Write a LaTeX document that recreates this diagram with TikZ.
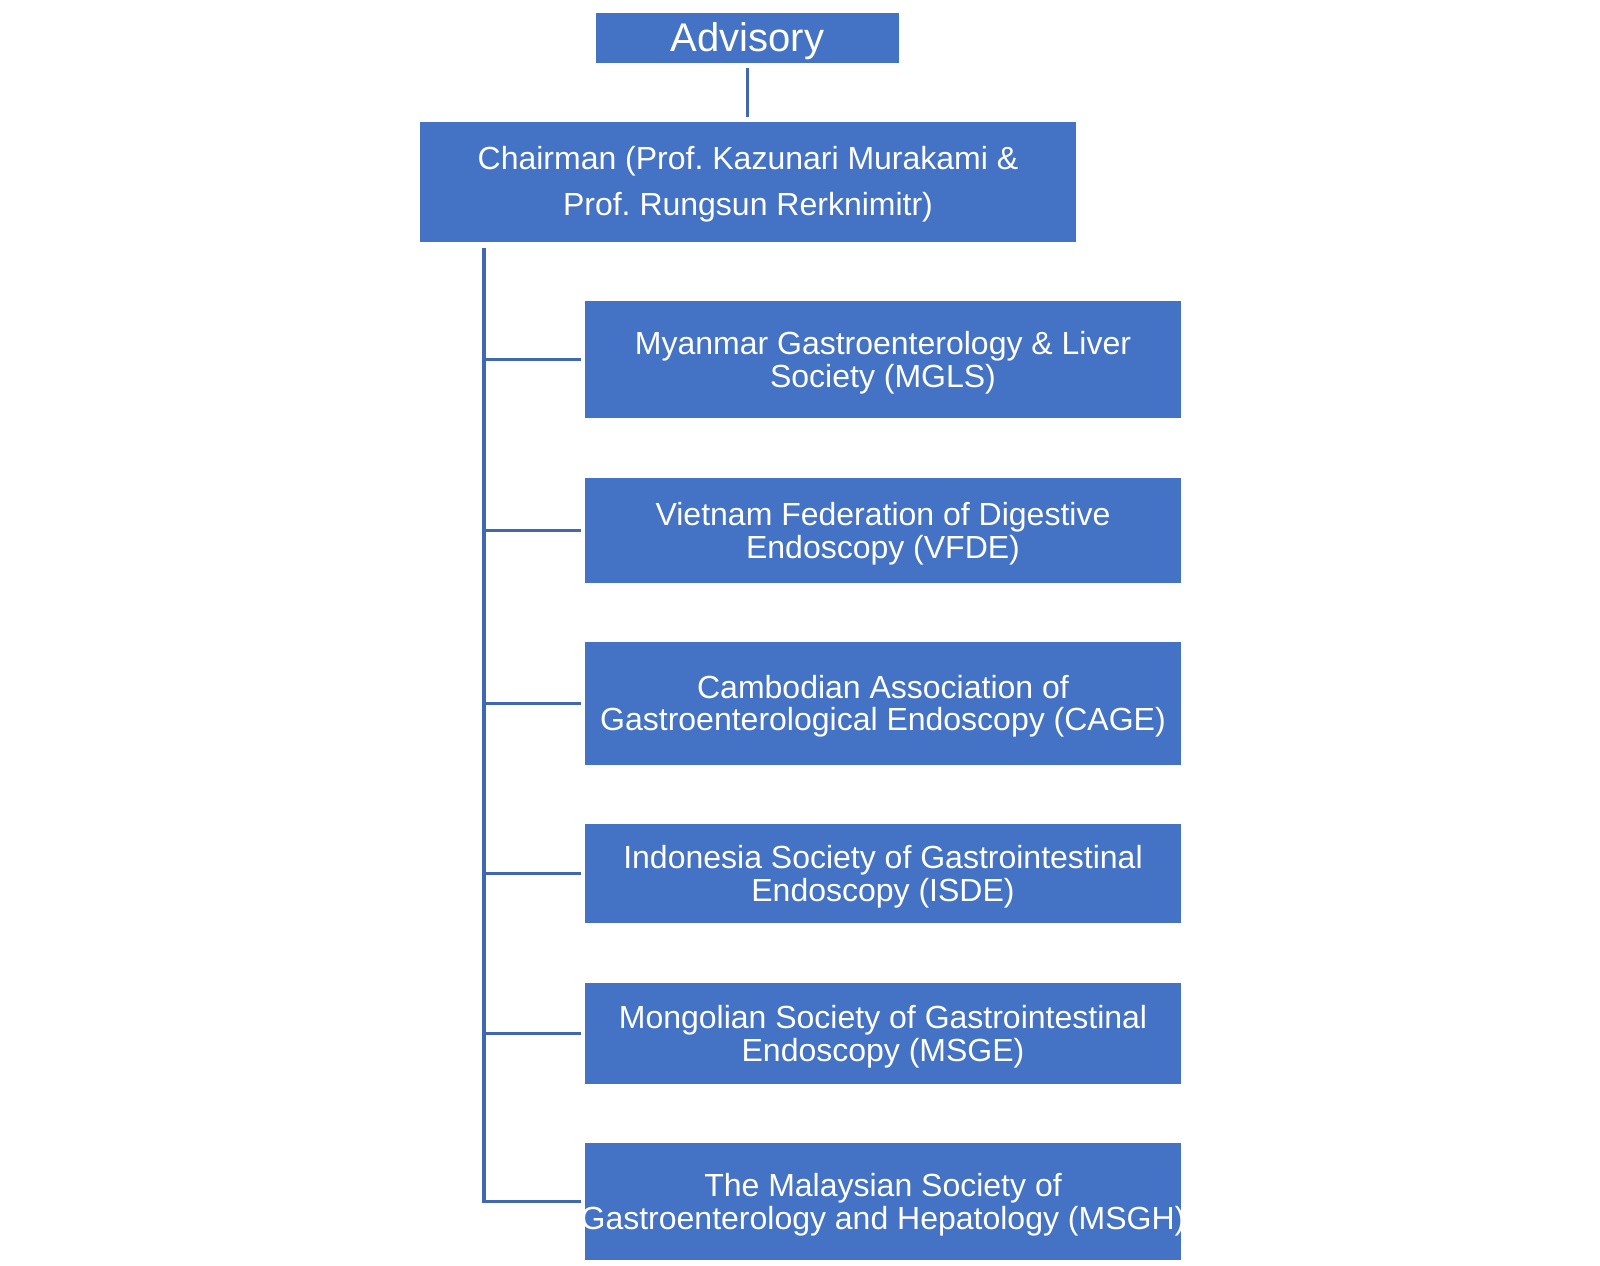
\documentclass[tikz,border=0pt]{standalone}
\usepackage{fontspec}
\setmainfont{Liberation Sans}
\frenchspacing
\definecolor{boxblue}{HTML}{4472C4}
\definecolor{lineblue}{HTML}{3F67B2}
\newcommand\topgap[1]{\rule{0pt}{#1}}
\begin{document}
\begin{tikzpicture}[x=0.5pt,y=-0.5pt,
  box/.style={fill=boxblue, draw=none, text=white, align=center, inner sep=0pt,
    font=\fontsize{16}{16.3}\selectfont},
  conn/.style={draw=lineblue, line width=1.65pt}]
\useasboundingbox (0,0) rectangle (1600,1265);
\node[box, minimum width=151.5pt, minimum height=25pt, font=\fontsize{20}{22}\selectfont] (adv) at (747.5,38) {\topgap{17.6pt}Advisory};
\node[box, minimum width=328pt, minimum height=60pt, font=\fontsize{16}{23}\selectfont] (chair) at (748,182) {\topgap{13.7pt}Chairman (Prof. Kazunari Murakami \&\\Prof. Rungsun Rerknimitr)};
\node[box, minimum width=298pt, minimum height=58.5pt] (b1) at (883,359.5) {\topgap{14.6pt}Myanmar Gastroenterology \& Liver\\Society (MGLS)};
\node[box, minimum width=298pt, minimum height=52.5pt] (b2) at (883,530.5) {\topgap{14.6pt}Vietnam Federation of Digestive\\Endoscopy (VFDE)};
\node[box, minimum width=298pt, minimum height=61.5pt] (b3) at (883,703.5) {\topgap{14.3pt}Cambodian Association of\\Gastroenterological Endoscopy (CAGE)};
\node[box, minimum width=298pt, minimum height=49.5pt] (b4) at (883,873.5) {\topgap{14.6pt}Indonesia Society of Gastrointestinal\\Endoscopy (ISDE)};
\node[box, minimum width=298pt, minimum height=50.5pt] (b5) at (883,1033.5) {\topgap{14.6pt}Mongolian Society of Gastrointestinal\\Endoscopy (MSGE)};
\node[box, minimum width=298pt, minimum height=58.5pt] (b6) at (883,1201.5) {\makebox[0pt]{\topgap{14.6pt}The Malaysian Society of}\\\makebox[0pt]{Gastroenterology and Hepatology (MSGH)}};
\coordinate (trunktop) at (484,248);
\draw[conn, shorten <=2.5pt, shorten >=2.5pt] (adv.south) -- (adv.south |- chair.north);
\draw[conn] (trunktop) -- (trunktop |- b6.west);
\foreach \b in {b1,b2,b3,b4,b5,b6}{
  \draw[conn] ([xshift=-0.8pt]trunktop |- \b.west) -- ([xshift=-2pt]\b.west);
}
\end{tikzpicture}
\end{document}
